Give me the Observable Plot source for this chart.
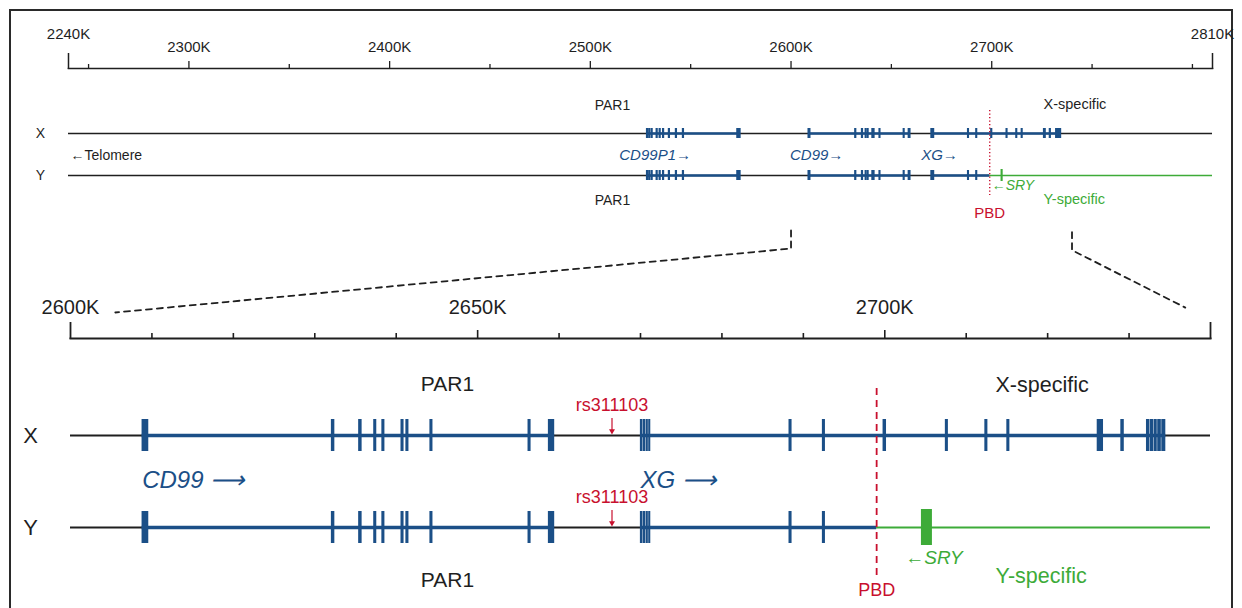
<!DOCTYPE html>
<html>
<head>
<meta charset="utf-8">
<script src="https://cdn.jsdelivr.net/npm/d3@7"></script>
<script src="https://cdn.jsdelivr.net/npm/@observablehq/plot@0.6"></script>
<style>
  html, body { margin: 0; padding: 0; background: #fff; }
  #chart { position: relative; width: 1242px; height: 608px; overflow: hidden; background: #fff; }
  #frame { position: absolute; left: 9px; top: 9px; width: 1224px; height: 800px; border: 2px solid #2a2a2a; box-sizing: border-box; }
  #chart svg { position: absolute; left: 0; top: 0; }
</style>
</head>
<body>
<div id="chart"><div id="frame"></div></div>
<script>
// ---------------- data (positions in kb) ----------------
const tracks = ["X", "Y"];

const overviewDomain = [2240, 2810];
const overviewEndTicks = [2240, 2810];
const overviewMajorTicks = [2300, 2400, 2500, 2600, 2700];
const overviewMinorTicks = [2250, 2350, 2450, 2550, 2650, 2750, 2800];

const zoomDomain = [2600, 2740];
const zoomEndTicks = [2600, 2740];
const zoomLabelTicks = [2600, 2650, 2700];
const zoomMajorTicks = [2650, 2700];
const zoomMinorTicks = [2610, 2620, 2630, 2640, 2660, 2670, 2680, 2690, 2710, 2720, 2730];

const pbdPosition = 2699.0;

const geneNames = ["CD99P1", "CD99", "XG"];
const cd99p1Exons = [[2528.3, 2528.7], [2529.4, 2529.8], [2530.6, 2531.0], [2533.1, 2533.5], [2534.6, 2535.0],
                     [2536.3, 2536.7], [2539.2, 2539.6], [2542.7, 2543.1], [2546.2, 2546.6], [2573.3, 2574.8]];
const cd99Exons = [[2608.8, 2609.6], [2632.05, 2632.45], [2635.4, 2635.8], [2637.25, 2637.6], [2638.25, 2638.6],
                   [2640.6, 2640.95], [2641.2, 2641.55], [2644.15, 2644.5], [2656.2, 2656.55], [2658.7, 2659.45]];
const xgExons = [[2670.0, 2670.3], [2670.38, 2670.62], [2670.7, 2670.95], [2671.02, 2671.25],
                 [2688.25, 2688.6], [2692.35, 2692.7], [2699.8, 2700.2], [2707.45, 2707.8],
                 [2712.3, 2712.65], [2715.0, 2715.35], [2726.1, 2726.85], [2729.0, 2729.4],
                 [2732.15, 2732.55], [2732.63, 2733.0], [2733.08, 2733.45], [2733.53, 2733.95], [2734.03, 2734.5]];
const geneExons = [cd99p1Exons, cd99Exons, xgExons];

const sryName = "SRY";
const sryExon = [2704.5, 2705.85];

const snpName = "rs311103";
const snpPosition = 2666.5;

// ---------------- derived tables ----------------
const FONT = '"Liberation Sans", Arial, Helvetica, sans-serif';
const INK = "#1f1f1f", BLUE = "#1b4f87", GREEN = "#3dab38", RED = "#c8102e";

const exonRows = [];
const geneRows = [];
geneNames.forEach((gene, gi) => {
  const ex = geneExons[gi];
  tracks.forEach(track => {
    ex.forEach(([start, end]) => {
      if (track === "X" || end <= pbdPosition) exonRows.push({gene, track, start, end});
    });
    const start = ex[0][0];
    const end = track === "X" ? ex[ex.length - 1][1] : Math.min(ex[ex.length - 1][1], pbdPosition);
    if (end > start) geneRows.push({gene, track, start, end});
  });
});
const inDomain = d => rows => rows.filter(r => r.end > d[0] && r.start < d[1]);
const backbone = d => [{track: "X", start: d[0], end: d[1]}, {track: "Y", start: d[0], end: pbdPosition}];
const yspecific = d => [{track: "Y", start: pbdPosition, end: d[1]}];
const sryRows = [{track: "Y", start: sryExon[0], end: sryExon[1]}];
const snpRows = tracks.map(track => ({track, name: snpName, x: snpPosition}));
const one = (t, extra = {}) => [{t, ...extra}];

const W = 1242, H = 608;
const baseStyle = {fontFamily: FONT, color: INK, background: "transparent", overflow: "visible"};

// ---------------- overview panel ----------------
const overview = Plot.plot({
  width: W, height: H,
  marginTop: 68, marginLeft: 68, marginRight: 30, marginBottom: 0,
  style: baseStyle,
  x: {domain: overviewDomain, label: null},
  y: {type: "point", domain: tracks, range: [133, 175], padding: 0, axis: null},
  marks: [
    Plot.frame({anchor: "top", stroke: INK, strokeWidth: 1.6}),
    Plot.axisX({anchor: "top", ticks: overviewMinorTicks, tickSize: 5, strokeWidth: 1.3, tickFormat: () => ""}),
    Plot.axisX({anchor: "top", ticks: overviewMajorTicks, tickSize: 8, strokeWidth: 1.3, tickFormat: () => ""}),
    Plot.axisX({anchor: "top", ticks: overviewEndTicks, tickSize: 16, strokeWidth: 1.5, tickFormat: () => ""}),
    Plot.axisX({anchor: "top", ticks: overviewMajorTicks, tickSize: 0, tickPadding: 17, fontSize: 15, tickFormat: d => d + "K"}),
    Plot.axisX({anchor: "top", ticks: overviewEndTicks, tickSize: 0, tickPadding: 30, fontSize: 15, tickFormat: d => d + "K"}),

    Plot.ruleY(backbone(overviewDomain), {y: "track", x1: "start", x2: "end", stroke: INK, strokeWidth: 1.3}),
    Plot.ruleY(yspecific(overviewDomain), {y: "track", x1: "start", x2: "end", stroke: GREEN, strokeWidth: 1.3}),
    Plot.ruleY(geneRows, {y: "track", x1: "start", x2: "end", stroke: BLUE, strokeWidth: 2.6}),
    Plot.rect(exonRows, {x1: "start", x2: "end", y1: "track", y2: "track", fill: BLUE,
      insetTop: -5, insetBottom: -5, insetLeft: -0.7, insetRight: -0.7}),
    Plot.rect(sryRows, {x1: "start", x2: "end", y1: "track", y2: "track", fill: GREEN,
      insetTop: -6, insetBottom: -6, insetLeft: 0.3, insetRight: 0.3}),

    Plot.ruleX([pbdPosition], {y1: () => "X", y2: () => "Y", insetTop: -23, insetBottom: -20,
      stroke: RED, strokeWidth: 1.4, strokeDasharray: "1.3,2.2"}),

    Plot.text(tracks, {x: overviewDomain[0], y: d => d, text: d => d, dx: -28, fontSize: 14, fill: INK}),
    Plot.text(one("\u2190Telomere"), {x: overviewDomain[0], y: () => "X", text: "t", dy: 22, dx: 2, textAnchor: "start", fontSize: 14, fill: INK}),
    Plot.text(one("PAR1"), {x: 2511, y: () => "X", text: "t", dy: -28, fontSize: 14, fill: INK}),
    Plot.text(one("PAR1"), {x: 2511, y: () => "Y", text: "t", dy: 25, fontSize: 14, fill: INK}),
    Plot.text(one("X-specific"), {x: 2725.8, y: () => "X", text: "t", dy: -29, textAnchor: "start", fontSize: 14.5, fill: INK}),
    Plot.text(one("Y-specific"), {x: 2725.8, y: () => "Y", text: "t", dy: 24, textAnchor: "start", fontSize: 14.5, fill: GREEN}),
    Plot.text(geneRows.filter(d => d.track === "X"), {x: "start", y: () => "X", text: d => d.gene + "\u2192", dy: 22, dx: 8,
      fontSize: 15, fontStyle: "italic", fill: BLUE}),
    Plot.text(one("PBD"), {x: pbdPosition, y: () => "Y", text: "t", dy: 38, fontSize: 15, fill: RED}),
    Plot.text(one("\u2190" + sryName), {x: pbdPosition, y: () => "Y", text: "t", dy: 10, dx: 2, textAnchor: "start",
      fontSize: 14, fontStyle: "italic", fill: GREEN})
  ]
});

// ---------------- zoomed panel ----------------
const zoomExons = inDomain(zoomDomain)(exonRows);
const zoomGenes = inDomain(zoomDomain)(geneRows);
const sryMid = (sryExon[0] + sryExon[1]) / 2;

const zoom = Plot.plot({
  width: W, height: H,
  marginTop: 338, marginLeft: 70, marginRight: 32, marginBottom: 0,
  style: baseStyle,
  x: {domain: zoomDomain, label: null},
  y: {type: "point", domain: tracks, range: [435, 527], padding: 0, axis: null},
  marks: [
    Plot.frame({anchor: "top", stroke: INK, strokeWidth: 2}),
    Plot.axisX({anchor: "top", ticks: zoomMinorTicks, tickSize: 6, strokeWidth: 1.6, tickFormat: () => ""}),
    Plot.axisX({anchor: "top", ticks: zoomMajorTicks, tickSize: 9, strokeWidth: 1.6, tickFormat: () => ""}),
    Plot.axisX({anchor: "top", ticks: zoomEndTicks, tickSize: 17, strokeWidth: 1.8, tickFormat: () => ""}),
    Plot.axisX({anchor: "top", ticks: zoomLabelTicks, tickSize: 0, tickPadding: 25, fontSize: 20, tickFormat: d => d + "K"}),

    Plot.ruleY(backbone(zoomDomain), {y: "track", x1: "start", x2: "end", stroke: INK, strokeWidth: 2}),
    Plot.ruleY(yspecific(zoomDomain), {y: "track", x1: "start", x2: "end", stroke: GREEN, strokeWidth: 2}),
    Plot.ruleY(zoomGenes, {y: "track", x1: "start", x2: "end", stroke: BLUE, strokeWidth: 3.6}),
    Plot.rect(zoomExons, {x1: "start", x2: "end", y1: "track", y2: "track", fill: BLUE,
      insetTop: -16, insetBottom: -16, insetLeft: -0.1, insetRight: -0.1}),
    Plot.rect(sryRows, {x1: "start", x2: "end", y1: "track", y2: "track", fill: GREEN,
      insetTop: -18, insetBottom: -18}),

    Plot.ruleX([pbdPosition], {y1: () => "X", y2: () => "Y", insetTop: -47, insetBottom: -48,
      stroke: RED, strokeWidth: 1.8, strokeDasharray: "7,5"}),

    // SNP marker: label, shaft and head
    Plot.text(snpRows, {x: "x", y: "track", text: "name", dy: -30, fontSize: 18, fill: RED}),
    Plot.ruleX(snpRows, {x: "x", y1: "track", y2: "track", insetTop: -17, insetBottom: 4, stroke: RED, strokeWidth: 1.2}),
    Plot.dot(snpRows, {x: "x", y: "track", dy: -4.5, symbol: "triangle", rotate: 180, r: 2.2, fill: RED, stroke: null}),

    Plot.text(tracks, {x: zoomDomain[0], y: d => d, text: d => d, dx: -40, fontSize: 22, fill: INK}),
    Plot.text(one("PAR1"), {x: 2646.3, y: () => "X", text: "t", dy: -51, fontSize: 21, fill: INK}),
    Plot.text(one("PAR1"), {x: 2646.3, y: () => "Y", text: "t", dy: 53, fontSize: 21, fill: INK}),
    Plot.text(one("X-specific"), {x: 2713.6, y: () => "X", text: "t", dy: -50, textAnchor: "start", fontSize: 21.5, fill: INK}),
    Plot.text(one("Y-specific"), {x: 2713.6, y: () => "Y", text: "t", dy: 49, textAnchor: "start", fontSize: 21.5, fill: GREEN}),
    Plot.text(zoomGenes.filter(d => d.track === "X"), {x: "start", y: () => "X", text: d => d.gene + " \u27F6", dy: 45, dx: 0,
      textAnchor: "start", fontSize: 24, fontStyle: "italic", fill: BLUE}),
    Plot.text(one("PBD"), {x: pbdPosition, y: () => "Y", text: "t", dy: 63, fontSize: 18, fill: RED}),
    Plot.text(one("\u2190" + sryName), {x: sryMid, y: () => "Y", text: "t", dy: 30, dx: 7,
      fontSize: 19, fontStyle: "italic", fill: GREEN})
  ]
});

// ---------------- connectors between panels ----------------
const ox = overview.scale("x"), zx = zoom.scale("x");
const toOverview = k => ox.invert(zx.apply(k));
const leftConnector = [{x: zoomDomain[0], y: 0}, {x: zoomDomain[0], y: 0.22}, {x: toOverview(2605.5), y: 1}];
const rightConnector = [{x: zoomDomain[1], y: 0.02}, {x: zoomDomain[1], y: 0.24}, {x: toOverview(2736.9), y: 0.94}];

const connectors = Plot.plot({
  width: W, height: H,
  marginTop: 0, marginLeft: 68, marginRight: 30, marginBottom: 0,
  style: baseStyle,
  x: {domain: overviewDomain, axis: null, label: null},
  y: {domain: [0, 1], range: [230, 312], axis: null, label: null},
  marks: [
    Plot.line(leftConnector, {x: "x", y: "y", stroke: INK, strokeWidth: 1.8, strokeDasharray: "6,5"}),
    Plot.line(rightConnector, {x: "x", y: "y", stroke: INK, strokeWidth: 1.8, strokeDasharray: "6,5"})
  ]
});

const chart = document.getElementById("chart");
chart.appendChild(connectors);
chart.appendChild(overview);
chart.appendChild(zoom);
</script>
</body>
</html>
